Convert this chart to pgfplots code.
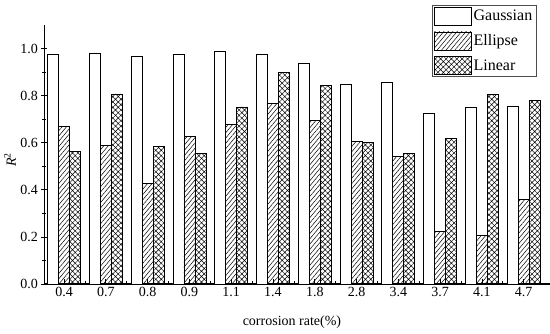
\documentclass[border=0pt]{standalone}
\usepackage{fontspec}
\setmainfont{Liberation Serif}
\usepackage{pgfplots}
\usepackage{pgfplotstable}
\pgfplotsset{compat=1.18}
\usetikzlibrary{patterns.meta}

\pgfplotstableread{
x g e l
0 0.975 0.670 0.562
1 0.980 0.590 0.807
2 0.965 0.427 0.583
3 0.975 0.625 0.555
4 0.990 0.677 0.752
5 0.975 0.767 0.900
6 0.937 0.695 0.843
7 0.848 0.605 0.600
8 0.855 0.540 0.555
9 0.725 0.223 0.620
10 0.752 0.205 0.805
11 0.755 0.358 0.780
}\data

\begin{document}
\begin{tikzpicture}
\begin{axis}[
  at={(44pt,49pt)}, anchor=south west,
  scale only axis, width=506pt, height=259pt,
  ybar=0pt, bar width=11pt,
  xmin=-0.48, xmax=11.63, ymin=0, ymax=1.1,
  axis x line*=bottom, axis y line*=left,
  x axis line style={-, line width=1.3pt},
  y axis line style={-, line width=0.8pt},
  xtick={0,...,11},
  xticklabels={0.4,0.7,0.8,0.9,1.1,1.4,1.8,2.8,3.4,3.7,4.1,4.7},
  minor x tick num=1,
  ytick={0,0.2,0.4,0.6,0.8,1.0},
  minor y tick num=1,
  xtick align=inside, ytick align=center,
  major tick length=5pt, minor tick length=3pt,
  tick style={black, line width=0.7pt},
  yticklabel style={/pgf/number format/.cd, fixed, fixed zerofill, precision=1, assume math mode=true},
  xticklabel style={/pgf/number format/assume math mode=true},
  ticklabel style={font=\fontsize{14}{16}\selectfont},
  xlabel={corrosion rate(\%)},
  ylabel={\textit{R}\textsuperscript{2}},
  label style={font=\fontsize{14}{16}\selectfont},
  xlabel style={at={(axis description cs:0.49,-0.147)}, anchor=center},
  ylabel style={at={(axis description cs:-0.067,0.479)}, anchor=center},
  legend style={at={(0.767,1.077)}, anchor=north west, draw=black!70,
    font=\fontsize{16}{18}\selectfont, inner sep=1.5pt, row sep=6pt,
    cells={anchor=west}},
  legend image code/.code={\draw[#1, line width=0.8pt] (0pt,-9pt) rectangle (37pt,9pt);},
  legend cell align=left,
]
\addplot[draw=black, line width=0.8pt, fill=white] table[x=x,y=g]{\data};
\addplot[draw=black, line width=0.8pt, pattern={Lines[angle=50, distance=3.4pt, line width=0.5pt]}] table[x=x,y=e]{\data};
\addplot[draw=black, line width=0.8pt, pattern={Hatch[angle=45, distance=3.8pt, line width=0.5pt]}] table[x=x,y=l]{\data};
\legend{Gaussian, Ellipse, Linear}
\end{axis}
\pgfresetboundingbox
\path[use as bounding box] (0,0) rectangle (550pt,333pt);
\end{tikzpicture}
\end{document}
